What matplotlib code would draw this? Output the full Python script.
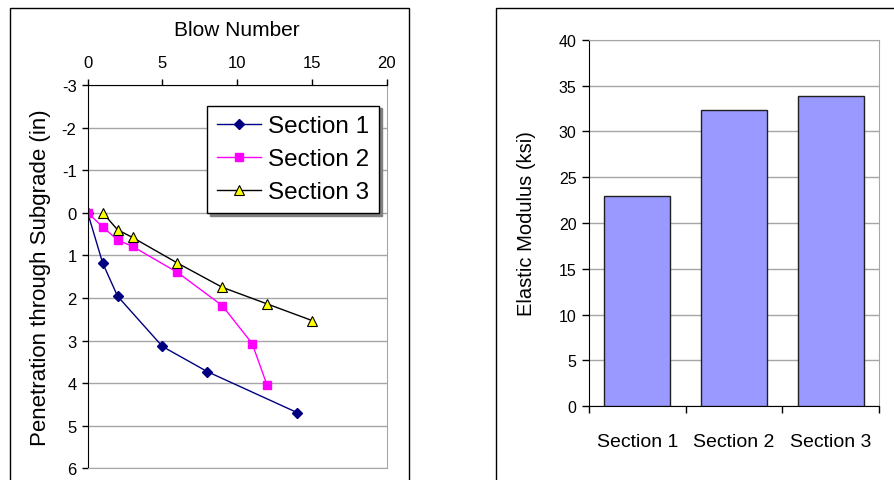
import matplotlib
matplotlib.use('Agg')
import matplotlib.pyplot as plt
from matplotlib.patches import Rectangle

plt.rcParams['font.family'] = ['Liberation Sans', 'DejaVu Sans']
plt.rcParams['axes.unicode_minus'] = False

# DCP penetration readings per section
s1_blows = [0, 1, 2, 5, 8, 14]
s1_depth = [0, 1.18, 1.96, 3.14, 3.73, 4.69]
s2_blows = [0, 1, 2, 3, 6, 9, 11, 12]
s2_depth = [0, 0.33, 0.64, 0.79, 1.40, 2.18, 3.07, 4.05]
s3_blows = [1, 2, 3, 6, 9, 12, 15]
s3_depth = [0, 0.40, 0.58, 1.18, 1.75, 2.14, 2.53]

# back-calculated moduli
sections = ['Section 1', 'Section 2', 'Section 3']
modulus = [22.9, 32.3, 33.9]

W, H = 894, 481
fig = plt.figure(figsize=(W / 100, H / 100), dpi=100)

# chart area borders
fig.patches.append(Rectangle((10 / W, -0.1), 399 / W, (H - 9) / H + 0.1,
                             transform=fig.transFigure, fill=False,
                             edgecolor='black', lw=1.0))
fig.patches.append(Rectangle((496 / W, -0.1), 0.5, (H - 9) / H + 0.1,
                             transform=fig.transFigure, fill=False,
                             edgecolor='black', lw=1.0))

grid_col = '#a6a6a6'

# --- penetration profile ---
ax1 = fig.add_axes([87.7 / W, 11.7 / H, 299 / W, 383.3 / H])
ax1.plot(s1_blows, s1_depth, color='#000080', lw=1, marker='D', ms=5,
         mfc='#000080', mec='#000080', label='Section 1')
ax1.plot(s2_blows, s2_depth, color='#ff00ff', lw=1, marker='s', ms=6,
         mfc='#ff00ff', mec='#ff00ff', label='Section 2')
ax1.plot(s3_blows, s3_depth, color='black', lw=1, marker='^', ms=6.5,
         mfc='#ffff00', mec='black', mew=0.8, label='Section 3')
ax1.set_xlim(0, 20)
ax1.set_ylim(6, -3)
ax1.set_xticks(range(0, 21, 5))
ax1.set_yticks(range(-3, 7))
ax1.xaxis.set_ticks_position('top')
ax1.xaxis.set_label_position('top')
ax1.set_xlabel('Blow Number', fontsize=15, labelpad=14)
ax1.set_ylabel('Penetration through Subgrade (in)', fontsize=16, labelpad=8)
ax1.tick_params(axis='x', labelsize=12, length=4, width=1, pad=7)
ax1.tick_params(axis='y', labelsize=12, length=4, width=1, pad=4)
ax1.yaxis.grid(True, color=grid_col, lw=1)
ax1.set_axisbelow(True)
for s in ('right', 'bottom'):
    ax1.spines[s].set_color(grid_col)
for s in ('left', 'top'):
    ax1.spines[s].set_color('black')
leg = ax1.legend(loc='upper right', bbox_to_anchor=(0.974, 0.946),
                 borderaxespad=0, fontsize=17.5, frameon=True, fancybox=False,
                 shadow={'color': '#808080', 'alpha': 1},
                 edgecolor='black', handlelength=1.8, handletextpad=0.3,
                 labelspacing=0.45, borderpad=0.4)
leg.get_frame().set_linewidth(1)

# --- moduli ---
ax2 = fig.add_axes([589 / W, 73.7 / H, 290 / W, 366.6 / H])
x = list(range(len(sections)))
ax2.bar(x, modulus, width=0.68, color='#9999ff', edgecolor='#202020', lw=1,
        zorder=3)
ax2.set_xlim(-0.5, 2.5)
ax2.set_ylim(0, 40)
ax2.set_yticks(range(0, 41, 5))
ax2.set_xticks([-0.5, 0.5, 1.5, 2.5])
ax2.set_xticklabels([])
ax2.set_xticks(x, minor=True)
ax2.set_xticklabels(sections, minor=True, fontsize=14)
ax2.tick_params(axis='x', which='minor', length=0, pad=19)
ax2.tick_params(axis='x', which='major', length=5, width=1)
ax2.tick_params(axis='y', labelsize=11.5, length=5, width=1, pad=4)
ax2.set_ylabel('Elastic Modulus (ksi)', fontsize=14.5, labelpad=16)
ax2.yaxis.grid(True, color=grid_col, lw=1)
ax2.set_axisbelow(True)
for s in ('right', 'top'):
    ax2.spines[s].set_color(grid_col)

fig.savefig('out.png', dpi=100)
